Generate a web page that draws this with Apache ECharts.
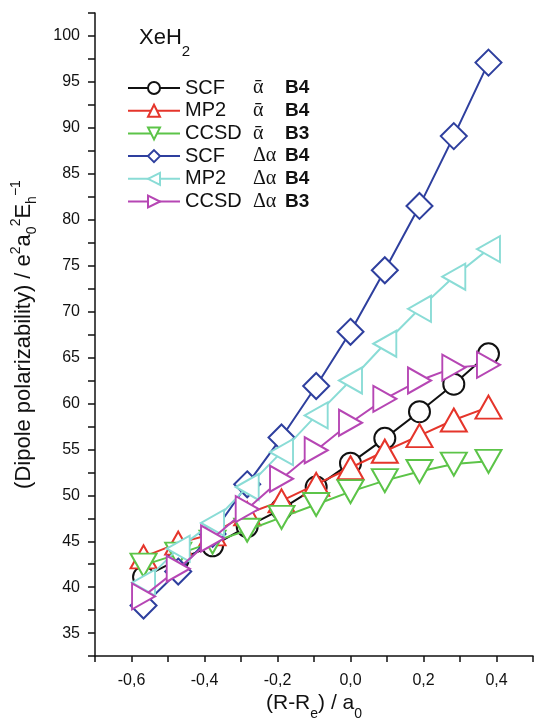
<!DOCTYPE html>
<html>
<head>
<meta charset="utf-8">
<script src="https://cdn.jsdelivr.net/npm/echarts@6/dist/echarts.min.js"></script>
<style>
    html, body { margin: 0; padding: 0; background: #fff; }
    #chart { width: 536px; height: 726px; }
</style>
</head>
<body>
<div id="chart"></div>
<script>
// displacement (R-Re)/a0, step 0.05 Angstrom
const xValues = [-0.567, -0.472, -0.378, -0.283, -0.189, -0.094, 0.0, 0.094, 0.189, 0.283, 0.378];

const scfMean = [41.1, 43.0, 44.5, 46.6, 48.5, 50.9, 53.5, 56.2, 59.1, 62.1, 65.4];
const mp2Mean = [43.3, 44.8, 45.8, 48.0, 49.4, 51.2, 53.0, 54.8, 56.5, 58.2, 59.6];
const ccsdMean = [42.4, 43.6, 44.9, 46.2, 47.6, 49.0, 50.4, 51.6, 52.6, 53.4, 53.7];
const scfAniso = [38.0, 41.7, 45.8, 51.2, 56.3, 61.9, 67.8, 74.5, 81.5, 89.1, 97.1];
const mp2Aniso = [40.5, 44.2, 47.0, 50.9, 54.7, 58.7, 62.5, 66.5, 70.3, 73.8, 76.8];
const ccsdAniso = [39.0, 42.0, 45.3, 48.5, 51.8, 54.9, 57.9, 60.5, 62.5, 63.9, 64.2];

const seriesNames = ['SCF', 'MP2', 'CCSD', 'SCF ', 'MP2 ', 'CCSD '];
const propLabels = ['ᾱ', 'ᾱ', 'ᾱ', 'Δα', 'Δα', 'Δα'];
const basisLabels = ['B4', 'B4', 'B3', 'B4', 'B4', 'B3'];

const colors = ['#111111', '#e5352b', '#5cc448', '#2e3f9e', '#8adcd6', '#b646b4'];
const symbols = ['circle', 'triangle', 'triangle', 'diamond', 'triangle', 'triangle'];
const rotations = [0, 0, 180, 0, 90, -90];
const sizes = [21, [26, 23], [26, 23], 26, [26, 23], [26, 23]];

const allData = [scfMean, mp2Mean, ccsdMean, scfAniso, mp2Aniso, ccsdAniso];

const chart = echarts.init(document.getElementById('chart'));

const series = allData.map(function (values, i) {
    return {
        name: seriesNames[i],
        type: 'line',
        data: values.map(function (v, j) { return [xValues[j], v]; }),
        symbol: symbols[i],
        symbolRotate: rotations[i],
        symbolSize: sizes[i],
        showAllSymbol: true,
        color: colors[i],
        lineStyle: { color: colors[i], width: 2 },
        itemStyle: { color: '#fff', borderColor: colors[i], borderWidth: 2 },
        z: 2 + i
    };
});

const option = {
    animation: false,
    textStyle: { fontFamily: 'Liberation Sans' },
    title: {
        text: '{a|XeH}{b|2}',
        left: 134,
        top: 22,
        textStyle: {
            fontWeight: 'normal',
            rich: {
                a: { fontSize: 22, color: '#111', fontFamily: 'Liberation Sans', lineHeight: 32, verticalAlign: 'top' },
                b: { fontSize: 15, color: '#111', fontFamily: 'Liberation Sans', lineHeight: 32, verticalAlign: 'bottom' }
            }
        }
    },
    legend: {
        orient: 'vertical',
        left: 127,
        top: 78,
        padding: 0,
        itemWidth: 52,
        itemHeight: 15,
        itemGap: 2.7,
        data: seriesNames,
        formatter: function (name) {
            const i = seriesNames.indexOf(name);
            return '{n|' + name.trim() + '}{s|' + propLabels[i] + '}{b|' + basisLabels[i] + '}';
        },
        textStyle: {
            rich: {
                n: { fontSize: 20, color: '#111', width: 68, lineHeight: 22, fontFamily: 'Liberation Sans' },
                s: { fontSize: 20, color: '#111', width: 32, lineHeight: 22, fontFamily: 'Liberation Serif' },
                b: { fontSize: 19, color: '#111', fontWeight: 'bold', lineHeight: 22, fontFamily: 'Liberation Sans' }
            }
        }
    },
    grid: { left: 95, right: 1, top: 13, bottom: 67 },
    xAxis: {
        type: 'value',
        min: -0.7,
        max: 0.5,
        interval: 0.1,
        splitLine: { show: false },
        axisLine: { onZero: false, lineStyle: { color: '#111', width: 1.5 } },
        axisTick: { inside: false, length: 6, lineStyle: { color: '#111', width: 1.5 } },
        axisLabel: {
            margin: 16,
            fontSize: 16,
            color: '#111',
            formatter: function (v) {
                const k = Math.round(v * 10);
                if (k % 2 !== 0) return '';
                return (k / 10).toFixed(1).replace('.', ',');
            }
        },
        name: '{a|(R-R}{b|e}{a|) / a}{b|0}',
        nameLocation: 'middle',
        nameGap: 35,
        nameTextStyle: {
            rich: {
                a: { fontSize: 21, color: '#111', fontFamily: 'Liberation Sans', lineHeight: 28, verticalAlign: 'top' },
                b: { fontSize: 14, color: '#111', fontFamily: 'Liberation Sans', lineHeight: 28, verticalAlign: 'bottom' }
            }
        }
    },
    yAxis: {
        type: 'value',
        min: 32.5,
        max: 102.5,
        interval: 2.5,
        splitLine: { show: false },
        axisLine: { show: true, onZero: false, lineStyle: { color: '#111', width: 1.5 } },
        axisTick: { show: true, inside: false, length: 7, lineStyle: { color: '#111', width: 1.5 } },
        axisLabel: {
            margin: 15,
            fontSize: 16,
            color: '#111',
            formatter: function (v) {
                return Math.round(v * 10) % 50 === 0 ? String(Math.round(v)) : '';
            }
        },
        name: '{a|(Dipole polarizability) / e}{p|2}{a|a}{b|0}{p|2}{a|E}{b|h}{p|−1}',
        nameLocation: 'middle',
        nameGap: 56,
        nameRotate: 90,
        nameTextStyle: {
            rich: {
                a: { fontSize: 22, color: '#111', fontFamily: 'Liberation Sans', lineHeight: 30, verticalAlign: 'middle' },
                p: { fontSize: 14, color: '#111', fontFamily: 'Liberation Sans', lineHeight: 30, verticalAlign: 'top' },
                b: { fontSize: 14, color: '#111', fontFamily: 'Liberation Sans', lineHeight: 30, verticalAlign: 'bottom' }
            }
        }
    },
    series: series
};

chart.setOption(option);
</script>
</body>
</html>
